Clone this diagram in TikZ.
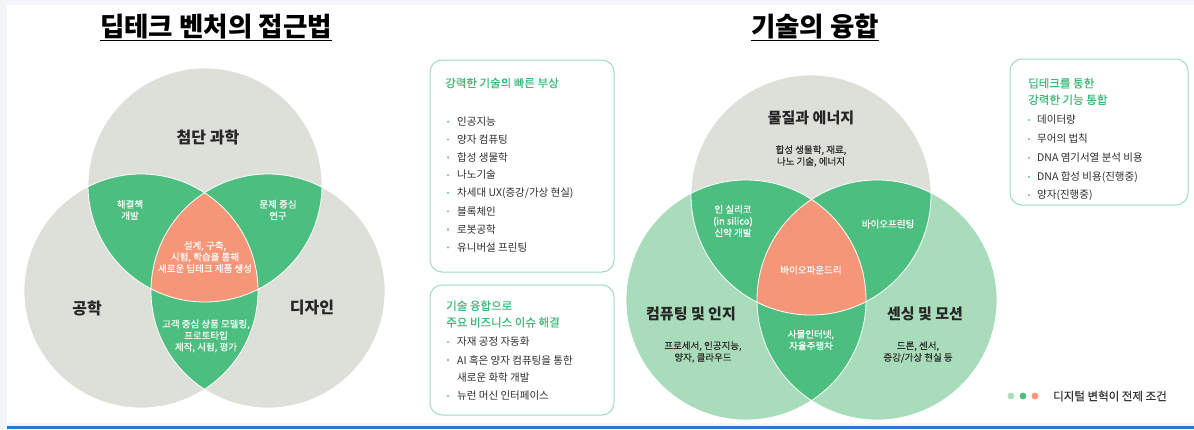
\documentclass[tikz,border=0pt]{standalone}
\usepackage{fontspec}
\setmainfont{Noto Sans CJK KR}
\newfontfamily\krsemi[FakeBold=0.4]{Noto Sans CJK KR}
\definecolor{pagebg}{HTML}{F3F5F9}
\definecolor{bluebar}{HTML}{2B78C8}
\definecolor{vgray}{HTML}{DDE0D9}
\definecolor{vgreen}{HTML}{4CBE7F}
\definecolor{vlight}{HTML}{A8DCBA}
\definecolor{vsalmon}{HTML}{F69679}
\definecolor{boxline}{HTML}{9BDDBE}
\definecolor{tgreen}{HTML}{3CB878}
\definecolor{txt}{HTML}{2E2E2E}
\tikzset{
  title/.style={font=\fontsize{26.5}{30}\selectfont\bfseries, text=black, inner sep=0pt},
  biglabel/.style={font=\fontsize{16}{19}\selectfont\bfseries, text=black!85, inner sep=0pt},
  midlabel/.style={font=\fontsize{15}{18}\selectfont\bfseries, text=black!85, inner sep=0pt},
  wlabel/.style={font=\krsemi\fontsize{9.5}{11.5}\selectfont, text=white, align=center, inner sep=0pt},
  dlabel/.style={font=\krsemi\fontsize{9.5}{11.7}\selectfont, text=txt, align=center, inner sep=0pt},
  infobox/.style={draw=boxline, line width=1pt, rounded corners=12pt, fill=white},
  boxtitle/.style={font=\krsemi\fontsize{11.5}{16.5}\selectfont, text=tgreen, align=left, anchor=west, inner sep=0pt},
  item/.style={font=\fontsize{10.5}{12}\selectfont, text=txt, anchor=west, inner sep=0pt},
  bul/.style={fill=tgreen!80},
  edge/.style={draw=white, line width=0.8pt}
}
\begin{document}
\begin{tikzpicture}[x=1pt,y=-1pt]
\useasboundingbox (0,0) rectangle (1194,429);
% background
\fill[pagebg] (0,0) rectangle (1194,429);
\fill[white] (7,5) rectangle (1194,423);
\fill[bluebar] (7,426) rectangle (1194,429);

% ---------- left Venn ----------
\coordinate (LA) at (205,185);
\coordinate (LB) at (141,291);
\coordinate (LC) at (268,291);
\fill[vgray] (LA) circle (117pt) (LB) circle (117pt) (LC) circle (117pt);
\begin{scope}\clip (LA) circle (117pt);
  \fill[vgreen] (LB) circle (117pt); \fill[vgreen] (LC) circle (117pt);
\end{scope}
\begin{scope}\clip (LB) circle (117pt);
  \fill[vgreen] (LC) circle (117pt);
\end{scope}
\begin{scope}\clip (LA) circle (117pt); \clip (LB) circle (117pt);
  \fill[vsalmon] (LC) circle (117pt);
\end{scope}
\draw[edge] (LA) circle (117pt) (LB) circle (117pt) (LC) circle (117pt);

\node[title] (t1) at (216,27) {딥테크 벤처의 접근법};
\draw[line width=1.6pt] ([yshift=-3.5pt]t1.base west) -- ([yshift=-3.5pt]t1.base east);

\node[biglabel] (l1) at (208,137) {첨단 과학};
\node[biglabel] (l2) at (87,308) {공학};
\node[biglabel] (l3) at (312,308) {디자인};
\node[wlabel] (l4) at (130,210) {해결책\\개발};
\node[wlabel] (l5) at (278,210) {문제 중심\\연구};
\node[wlabel] (l6) at (205,257) {설계, 구축,\\시험, 학습을 통해\\새로운 딥테크 제품 생성};
\node[wlabel] (l7) at (206,336) {고객 중심 상품 모델링,\\프로토타입\\제작, 시험, 평가};

% ---------- box 1 ----------
\draw[infobox] (430,60) rectangle (614,272);
\node[boxtitle] (b1t) at (445,83) {강력한 기술의 빠른 부상};
\foreach \y/\t [count=\i] in {121.7/인공지능, 139.5/양자 컴퓨팅, 157.3/합성 생물학, 175/나노기술, 193/{차세대 UX(증강/가상 현실)}, 211.2/블록체인, 229.3/로봇공학, 247.3/유니버설 프린팅}{
  \fill[bul] (448,\y) circle (1.2pt);
  \node[item] (b1i\i) at (457,\y) {\t};
}

% ---------- box 2 ----------
\draw[infobox] (430,285) rectangle (614,415);
\node[boxtitle] (b2t) at (446,314) {기술 융합으로\\주요 비즈니스 이슈 해결};
\fill[bul] (448,342) circle (1.2pt);
\node[item] (b2i1) at (457,342) {자재 공정 자동화};
\fill[bul] (448,360) circle (1.2pt);
\node[item] (b2i2) at (457,360) {AI 혹은 양자 컴퓨팅을 통한};
\node[item] (b2i3) at (457,378) {새로운 화학 개발};
\fill[bul] (448,396) circle (1.2pt);
\node[item] (b2i4) at (457,396) {뉴런 머신 인터페이스};

% ---------- right Venn ----------
\coordinate (RA) at (811,195);
\coordinate (RB) at (746,300);
\coordinate (RC) at (877,300);
\fill[vlight] (RB) circle (120pt) (RC) circle (120pt);
\fill[vgray] (RA) circle (120pt);
\begin{scope}\clip (RA) circle (120pt);
  \fill[vgreen] (RB) circle (120pt); \fill[vgreen] (RC) circle (120pt);
\end{scope}
\begin{scope}\clip (RB) circle (120pt);
  \fill[vgreen] (RC) circle (120pt);
\end{scope}
\begin{scope}\clip (RA) circle (120pt); \clip (RB) circle (120pt);
  \fill[vsalmon] (RC) circle (120pt);
\end{scope}
\draw[edge] (RA) circle (120pt) (RB) circle (120pt) (RC) circle (120pt);

\node[title] (t2) at (815,27) {기술의 융합};
\draw[line width=1.6pt] ([yshift=-3.5pt]t2.base west) -- ([yshift=-3.5pt]t2.base east);

\node[midlabel] (r1) at (811,118) {물질과 에너지};
\node[dlabel] (r2) at (811,156) {합성 생물학, 재료,\\나노 기술, 에너지};
\node[wlabel, font=\krsemi\fontsize{9.5}{11.7}\selectfont] (r3) at (733,221) {인 실리코\\(in silico)\\신약 개발};
\node[wlabel] (r4) at (888,224) {바이오프린팅};
\node[wlabel] (r5) at (811,270) {바이오파운드리};
\node[midlabel] (r6) at (691,314) {컴퓨팅 및 인지};
\node[dlabel] (r7) at (703,352) {프로세서, 인공지능,\\양자, 클라우드};
\node[midlabel] (r8) at (925,314) {센싱 및 모션};
\node[dlabel] (r9) at (918,352) {드론, 센서,\\증강/가상 현실 등};
\node[wlabel, font=\krsemi\fontsize{9.5}{11.7}\selectfont] (r10) at (811,340) {사물인터넷,\\자율주행차};

% ---------- box 3 ----------
\draw[infobox] (1010,59) rectangle (1188,205);
\node[boxtitle] (b3t) at (1028,91.5) {딥테크를 통한\\강력한 기능 통합};
\foreach \y/\t [count=\i] in {120/데이터량, 139/무어의 법칙, 158/DNA 염기서열 분석 비용, 177/DNA 합성 비용(진행중), 195/양자(진행중)}{
  \fill[bul] (1029,\y) circle (1.2pt);
  \node[item] (b3i\i) at (1037,\y) {\t};
}

% ---------- legend ----------
\fill[vlight] (1011,396) circle (3.4pt);
\fill[vgreen] (1023,396) circle (3.4pt);
\fill[vsalmon] (1035,396) circle (3.4pt);
\node[font=\krsemi\fontsize{11.5}{14}\selectfont, text=black!80, anchor=west, inner sep=0pt] (leg) at (1053,396) {디지털 변혁이 전제 조건};
\end{tikzpicture}
\end{document}
